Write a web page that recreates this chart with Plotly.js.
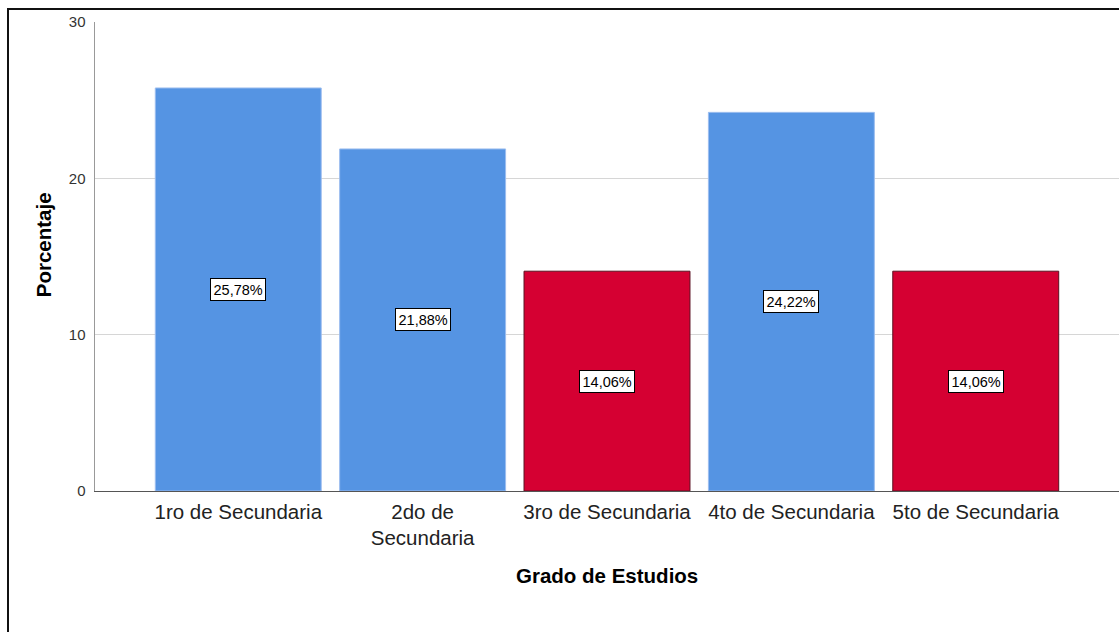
<!DOCTYPE html>
<html>
<head>
<meta charset="utf-8">
<script src="https://cdn.plot.ly/plotly-3.0.1.min.js"></script>
<style>
  html, body { margin: 0; padding: 0; background: #fff; overflow: hidden; }
  #wrap { position: relative; width: 1119px; height: 632px; }
  #chart { position: absolute; left: 0; top: 0; width: 1119px; height: 632px; }
  #frame { position: absolute; left: 7px; top: 8px; width: 1200px; height: 700px;
           border-left: 2px solid #111; border-top: 2px solid #111; pointer-events: none; }
</style>
</head>
<body>
<div id="wrap">
  <div id="chart"></div>
  <div id="frame"></div>
</div>
<script>
// Data
const categories = ["1ro de Secundaria", "2do de<br>Secundaria", "3ro de Secundaria", "4to de Secundaria", "5to de Secundaria"];
const percentages = [25.78, 21.88, 14.06, 24.22, 14.06];
const labelTexts = ["25,78%", "21,88%", "14,06%", "24,22%", "14,06%"];
const yTickVals = [0, 10, 20, 30];

// Styles
const BLUE = "#5594E3", RED = "#D50032";
const barColors = [BLUE, BLUE, RED, BLUE, RED];
const barLines = ["#9cbdef", "#9cbdef", "#5a1020", "#9cbdef", "#5a1020"];

const xIdx = categories.map((_, i) => i);

const trace = {
  type: "bar",
  x: xIdx,
  y: percentages,
  width: 0.9,
  marker: { color: barColors, line: { color: barLines, width: 1 } },
  hoverinfo: "none"
};

const annotations = percentages.map((v, i) => ({
  x: i, y: v / 2, xref: "x", yref: "y",
  text: labelTexts[i], showarrow: false,
  font: { family: "Liberation Sans, Arial, sans-serif", size: 14.5, color: "#000" },
  bgcolor: "#fff", bordercolor: "#000", borderwidth: 1, borderpad: 2.5
}));

annotations.push({
  text: "<b>Grado de Estudios</b>", showarrow: false,
  xref: "paper", yref: "paper", x: 0.5, y: (491.5 - 576) / 469.5,
  xanchor: "center", yanchor: "middle",
  font: { family: "Liberation Sans, Arial, sans-serif", size: 20.5, color: "#000" }
});
annotations.push({
  text: "<b>Porcentaje</b>", showarrow: false, textangle: -90,
  xref: "paper", yref: "paper", x: (43.5 - 95) / 1024, y: (491.5 - 245) / 469.5,
  xanchor: "center", yanchor: "middle",
  font: { family: "Liberation Sans, Arial, sans-serif", size: 20.5, color: "#000" }
});

const layout = {
  width: 1119, height: 632,
  margin: { l: 95, r: 0, t: 22, b: 140.5, pad: 0 },
  paper_bgcolor: "#fff", plot_bgcolor: "#fff",
  showlegend: false,
  font: { family: "Liberation Sans, Arial, sans-serif" },
  xaxis: {
    range: [-0.777, 4.777],
    tickvals: xIdx, ticktext: categories,
    showgrid: false, zeroline: false,
    showline: true, linecolor: "#555", linewidth: 1,
    ticks: "", ticklabelstandoff: 2,
    tickfont: { size: 20.5, color: "#222" },
    fixedrange: true
  },
  yaxis: {
    range: [0, 30],
    tickvals: yTickVals,
    showgrid: true, gridcolor: "#d6d6d6", gridwidth: 1.5,
    zeroline: false,
    showline: true, linecolor: "#999", linewidth: 1.5,
    ticks: "", ticklabelstandoff: 5,
    tickfont: { size: 15, color: "#333" },
    fixedrange: true
  },
  annotations: annotations,
  bargap: 0.1
};

Plotly.newPlot("chart", [trace], layout, { displayModeBar: false, staticPlot: true });
</script>
</body>
</html>
